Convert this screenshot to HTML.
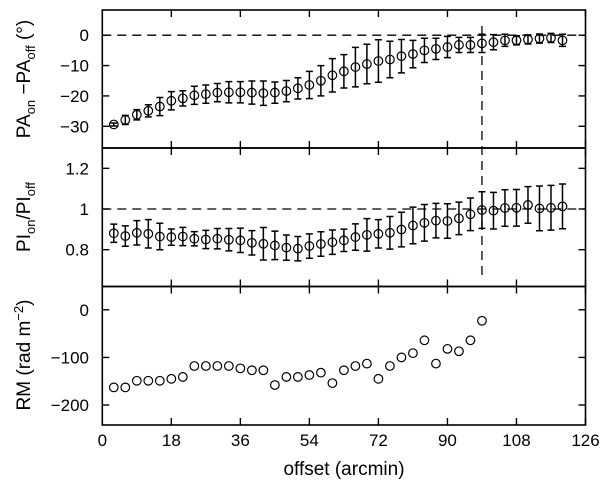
<!DOCTYPE html>
<html><head><meta charset="utf-8"><style>
html,body{margin:0;padding:0;background:#fff}
svg{display:block;font-family:"Liberation Sans","DejaVu Sans",sans-serif}
</style></head><body>
<svg id="chart" width="602" height="483" viewBox="0 0 602 483" xmlns="http://www.w3.org/2000/svg">
<g id="g"></g>
<text x="344" y="475" text-anchor="middle" font-size="19">offset (arcmin)</text>
<text transform="translate(30,79) rotate(-90)" text-anchor="middle" font-size="19">PA<tspan font-size="13" dy="5">on</tspan><tspan dy="-5"> −PA</tspan><tspan font-size="13" dy="5">off</tspan><tspan dy="-5"> (°)</tspan></text>
<text transform="translate(30,217) rotate(-90)" text-anchor="middle" font-size="19">PI<tspan font-size="13" dy="5">on</tspan><tspan dy="-5">/PI</tspan><tspan font-size="13" dy="5">off</tspan></text>
<text transform="translate(30,355) rotate(-90)" text-anchor="middle" font-size="19">RM (rad m<tspan font-size="13" dy="-7">−2</tspan><tspan dy="7">)</tspan></text>
</svg>
<script>
const xs = [3,6,9,12,15,18,21,24,27,30,33,36,39,42,45,48,51,54,57,60,63,66,69,72,75,78,81,84,87,90,93,96,99,102,105,108,111,114,117,120];
const paVals = [-29.4,-27.9,-26.2,-24.9,-23.5,-21.6,-20.8,-19.8,-19.4,-18.9,-18.8,-18.8,-18.9,-19.1,-18.9,-18.4,-17.5,-16.4,-15.0,-13.2,-11.9,-10.5,-9.5,-8.5,-8.0,-6.9,-6.2,-5.0,-4.5,-3.9,-3.2,-3.2,-2.7,-2.3,-1.7,-1.7,-1.4,-1.1,-0.9,-1.7];
const paErr = [0.5,1.5,1.7,2,3,3,2.5,3,3,3,3.5,3.5,3.8,4,3.5,3.5,3.5,4.5,5,5.5,5.5,6.5,6.5,7,6,5.5,4.5,4,3.5,3.5,2.5,2.5,3,2.5,2,1.5,1.5,1.5,1.5,2];
const piVals = [0.881,0.867,0.883,0.878,0.865,0.862,0.865,0.854,0.85,0.854,0.849,0.846,0.834,0.829,0.821,0.81,0.805,0.818,0.828,0.837,0.846,0.862,0.873,0.878,0.883,0.899,0.919,0.932,0.943,0.941,0.954,0.974,0.995,0.992,1.005,1.006,1.02,1.003,1.006,1.013];
const piErr = [0.045,0.05,0.06,0.07,0.065,0.04,0.045,0.035,0.045,0.05,0.055,0.06,0.06,0.08,0.07,0.062,0.06,0.06,0.06,0.06,0.055,0.065,0.08,0.07,0.08,0.085,0.09,0.09,0.085,0.085,0.08,0.08,0.09,0.09,0.09,0.09,0.09,0.11,0.11,0.11];
const rmX = [3,6,9,12,15,18,21,24,27,30,33,36,39,42,45,48,51,54,57,60,63,66,69,72,75,78,81,84,87,90,93,96,99];
const rmVals = [-163,-163,-149,-149,-149,-145,-141,-118,-118,-118,-118,-123,-127,-127,-158,-141,-141,-137,-132,-154,-127,-118,-113,-145,-118,-100,-91,-64,-113,-82,-87,-64,-23];
const xTicks = [0,18,36,54,72,90,108,126];
const paTicks = [0,-10,-20,-30];
const piTicks = [1.2,1,0.8];
const rmTicks = [0,-100,-200];
const vLineX = 99;

const NS="http://www.w3.org/2000/svg";
const g=document.getElementById('g');
function el(t,a){const e=document.createElementNS(NS,t);for(const k in a)e.setAttribute(k,a[k]);g.appendChild(e);return e;}
const L=102.3,R=585.5;
const X=v=>L+(v-0)/126*(R-L);
const panels=[
 {top:10,bot:148,min:-37.15,max:8.3,name:'pa'},
 {top:148,bot:286.5,min:0.619,max:1.30,name:'pi'},
 {top:286.5,bot:425,min:-242,max:49,name:'rm'}
];
function Y(p,v){return p.bot-(v-p.min)/(p.max-p.min)*(p.bot-p.top);}
const fmt=v=>String(v).replace('-','\u2212');

panels.forEach((p,i)=>{
  const r=el('rect',{x:L,y:p.top,width:R-L,height:p.bot-p.top,fill:'none',stroke:'#000','stroke-width':1.6});
  
  
  xTicks.forEach(t=>{
    const x=X(t);
    const a=el('line',{x1:x,x2:x,y1:p.bot,y2:p.bot-7,stroke:'#000','stroke-width':1.4});
    
    
    const b=el('line',{x1:x,x2:x,y1:p.top,y2:p.top+7,stroke:'#000','stroke-width':1.4});
    
    
  });
  const ticks=[paTicks,piTicks,rmTicks][i];
  ticks.forEach(t=>{
    const y=Y(p,t);
    const a=el('line',{x1:L,x2:L+7,y1:y,y2:y,stroke:'#000','stroke-width':1.4});
    
    
    const b=el('line',{x1:R,x2:R-7,y1:y,y2:y,stroke:'#000','stroke-width':1.4});
    
    
    const tx=el('text',{x:89,y:y+6,'text-anchor':'end','font-size':17});
    tx.textContent=fmt(t);
    
    
  });
});
const p0=panels[0],p1=panels[1],p2=panels[2];
const h1=el('line',{x1:L,x2:R,y1:Y(p0,0),y2:Y(p0,0),stroke:'#000','stroke-width':1.3,'stroke-dasharray':'9,6'});


const h2=el('line',{x1:L,x2:R,y1:Y(p1,1),y2:Y(p1,1),stroke:'#000','stroke-width':1.3,'stroke-dasharray':'9,6'});


const vl=el('line',{x1:X(vLineX),x2:X(vLineX),y1:p0.top+16,y2:277,stroke:'#000','stroke-width':1.3,'stroke-dasharray':'9,6'});



function errpt(p,x,v,e){
  const cx=X(x),cy=Y(p,v),y1=Y(p,v+e),y2=Y(p,v-e);
  const b=el('path',{d:`M${cx},${y1}V${y2}M${cx-3.5},${y1}H${cx+3.5}M${cx-3.5},${y2}H${cx+3.5}`,stroke:'#000','stroke-width':1.5,fill:'none'});
  
  
}
function pt(p,x,v){
  const c=el('circle',{cx:X(x),cy:Y(p,v),r:4.3,fill:'none',stroke:'#000','stroke-width':1.2});
  
  
}
xs.forEach((x,i)=>{errpt(p0,x,paVals[i],paErr[i]);pt(p0,x,paVals[i]);});
xs.forEach((x,i)=>{errpt(p1,x,piVals[i],piErr[i]);pt(p1,x,piVals[i]);});
rmX.forEach((x,i)=>pt(p2,x,rmVals[i]));

xTicks.forEach(t=>{
  const tx=el('text',{x:X(t),y:446,'text-anchor':'middle','font-size':17});
  tx.textContent=t;
  
  
});
</script>
</body></html>
